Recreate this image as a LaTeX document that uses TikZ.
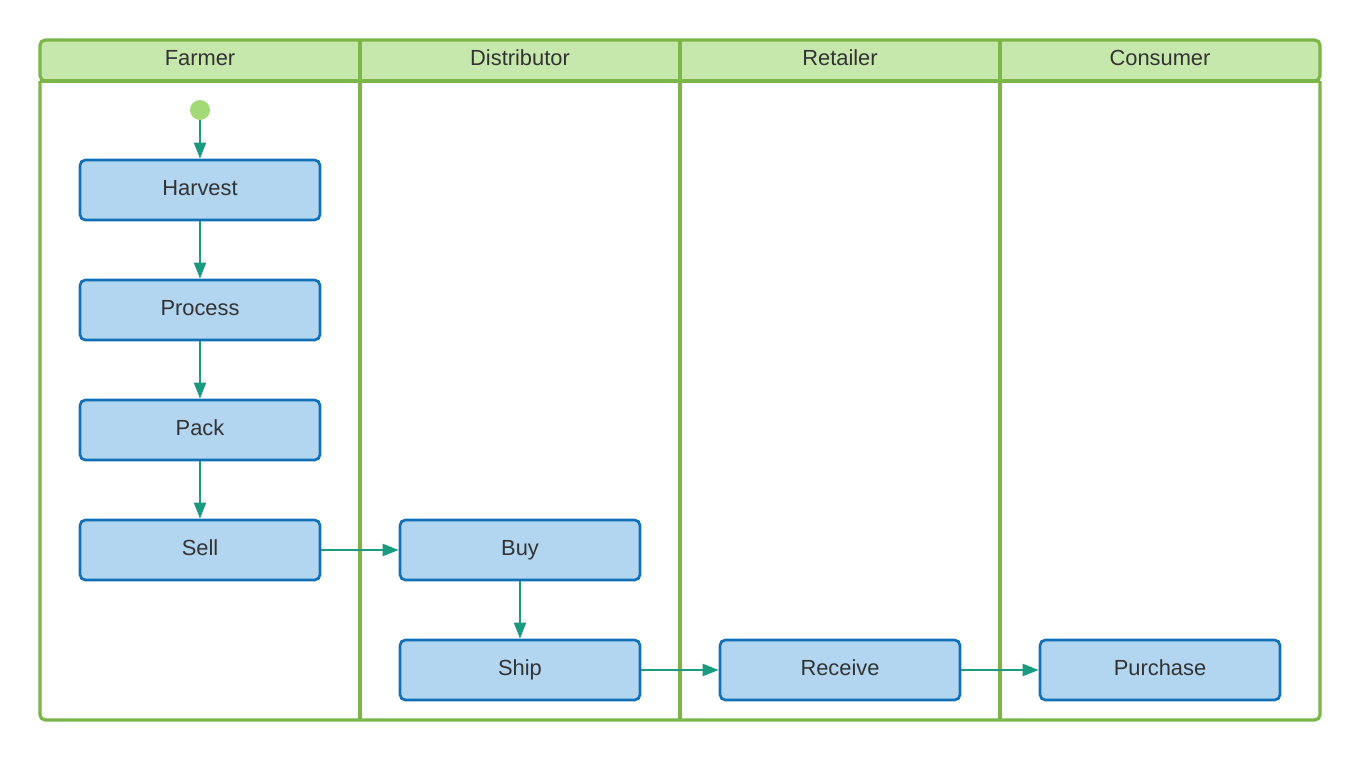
\documentclass[tikz,border=0pt]{standalone}
\usepackage{fontspec}
\setmainfont{Liberation Sans}
\usetikzlibrary{arrows.meta}
\definecolor{lanegreen}{HTML}{7AB648}
\definecolor{headfill}{HTML}{C7E8AC}
\definecolor{boxfill}{HTML}{B2D5F0}
\definecolor{boxline}{HTML}{1071B8}
\definecolor{arrowc}{HTML}{1A9A7F}
\definecolor{startc}{HTML}{A3D977}
\definecolor{txt}{HTML}{333333}
\begin{document}
\begin{tikzpicture}[x=0.75pt,y=-0.75pt,
  every node/.style={font=\fontsize{16.4}{19}\selectfont, text=txt},
  lbl/.style={text height=11.5pt, text depth=4pt, inner sep=0pt},
  lanebox/.style={draw=lanegreen, line width=2.4pt},
  headbox/.style={draw=lanegreen, fill=headfill, line width=2.4pt},
  stepbox/.style={lbl, draw=boxline, fill=boxfill, line width=2pt, rounded corners=4pt,
    minimum width=240*0.75pt, minimum height=60*0.75pt},
  flow/.style={draw=arrowc, line width=1.5pt, -{Triangle[length=12pt,width=9pt]}}]
\useasboundingbox (0,0) rectangle (1360,760);
% lanes
\draw[headbox, rounded corners=4pt] (40,81) -- (40,40) -- (1320,40) -- (1320,81) -- cycle;
\draw[lanebox, rounded corners=4pt] (40,81) -- (40,720) -- (1320,720) -- (1320,81);
\draw[lanebox] (40,81) -- (1320,81);
\foreach \x in {360,680,1000} \draw[lanebox] (\x,40) -- (\x,720);
\node[lbl] (hF) at (200,60.5) {Farmer};
\node[lbl] (hD) at (520,60.5) {Distributor};
\node[lbl] (hR) at (840,60.5) {Retailer};
\node[lbl] (hC) at (1160,60.5) {Consumer};
% start
\node[circle, fill=startc, minimum size=20*0.75pt, inner sep=0pt] (start) at (200,110) {};
% steps
\node[stepbox] (harvest) at (200,190) {Harvest};
\node[stepbox] (process) at (200,310) {Process};
\node[stepbox] (pack) at (200,430) {Pack};
\node[stepbox] (sell) at (200,550) {Sell};
\node[stepbox] (buy) at (520,550) {Buy};
\node[stepbox] (ship) at (520,670) {Ship};
\node[stepbox] (receive) at (840,670) {Receive};
\node[stepbox] (purchase) at (1160,670) {Purchase};
% flows
\draw[flow] (start) -- (harvest);
\draw[flow] (harvest) -- (process);
\draw[flow] (process) -- (pack);
\draw[flow] (pack) -- (sell);
\draw[flow] (sell) -- (buy);
\draw[flow] (buy) -- (ship);
\draw[flow] (ship) -- (receive);
\draw[flow] (receive) -- (purchase);
\end{tikzpicture}
\end{document}
